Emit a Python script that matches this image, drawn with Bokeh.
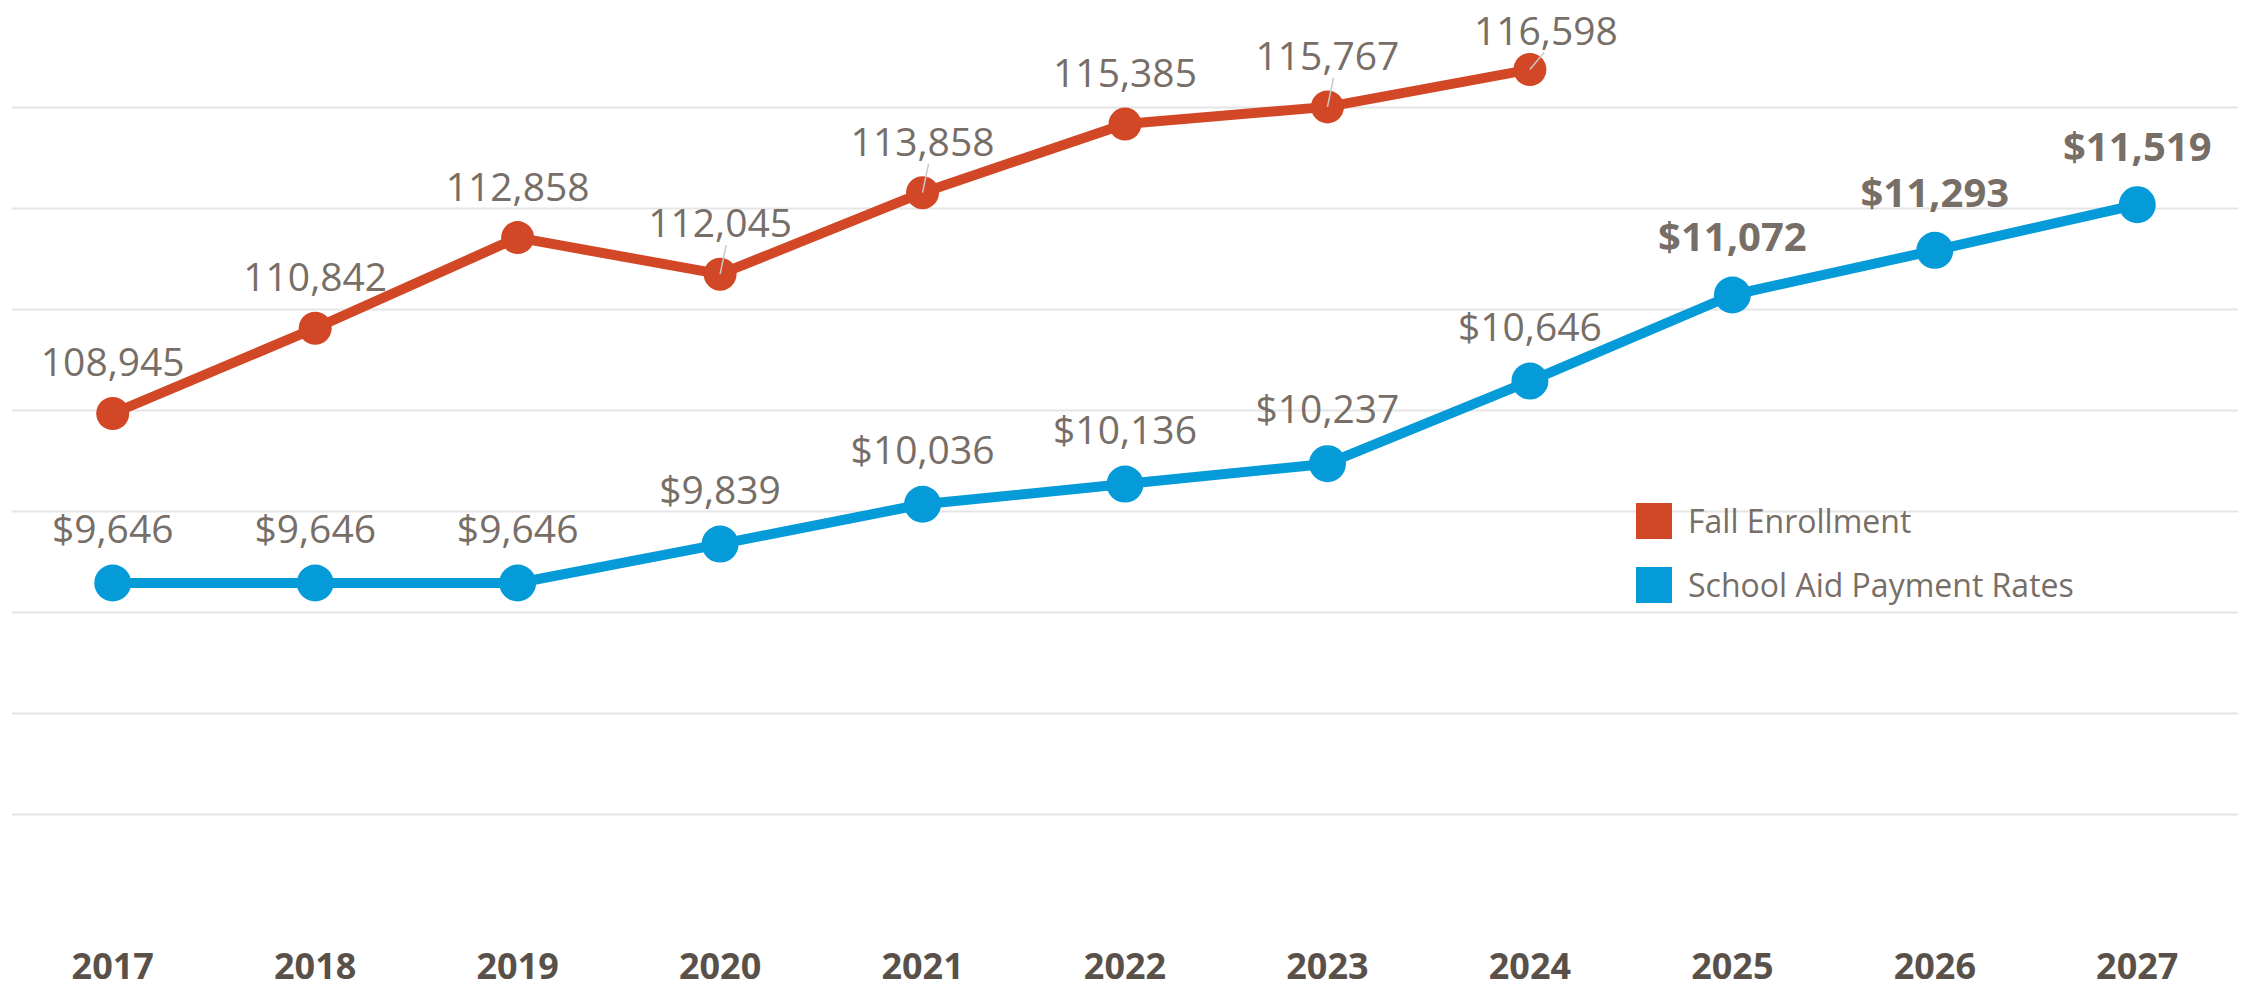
from bokeh.plotting import figure
from bokeh.models import (ColumnDataSource, Range1d, FixedTicker,
                          Legend, LegendItem, FactorRange)
from bokeh.core.properties import value
from bokeh.embed import file_html
from bokeh.resources import INLINE

# ---------------- data ----------------
years = ["2017", "2018", "2019", "2020", "2021", "2022",
         "2023", "2024", "2025", "2026", "2027"]
enroll_years = years[:8]
fall_enrollment = [108945, 110842, 112858, 112045, 113858, 115385, 115767, 116598]
aid_rates = [9646, 9646, 9646, 9839, 10036, 10136, 10237, 10646, 11072, 11293, 11519]
projected_years = ["2025", "2026", "2027"]
leader_years = ["2020", "2021", "2023"]
grid_values = [8000, 8500, 9000, 9500, 10000, 10500, 11000, 11500, 12000]
series_names = ["Fall Enrollment", "School Aid Payment Rates"]

# ---------------- styles ----------------
RED = "#D24726"
BLUE = "#059BD8"
LABEL = "#776E67"
AXIS_LABEL = "#595149"
FONT = "Open Sans"

W, H = 2242, 989
FRAME_H = 915
AID_RANGE = (8000, 12530)
ENR_RANGE = (97775, 118134)
enr_per_px = (ENR_RANGE[1] - ENR_RANGE[0]) / FRAME_H

p = figure(width=W, height=H, output_backend="svg", toolbar_location=None,
           x_range=FactorRange(factors=years),
           y_range=Range1d(*AID_RANGE),
           min_border_left=11, min_border_right=4,
           min_border_top=0, min_border_bottom=H - FRAME_H)
p.extra_y_ranges = {"enr": Range1d(*ENR_RANGE)}

p.outline_line_color = None
p.background_fill_color = "white"
p.border_fill_color = "white"
p.xgrid.grid_line_color = None
p.ygrid.ticker = FixedTicker(ticks=grid_values)
p.ygrid.grid_line_color = "#E5E5E5"
p.ygrid.grid_line_width = 2
p.yaxis.visible = False

xa = p.xaxis[0]
xa.axis_line_color = None
xa.major_tick_line_color = None
xa.minor_tick_line_color = None
xa.major_label_text_font = FONT
xa.major_label_text_font_size = "36px"
xa.major_label_text_font_style = "bold"
xa.major_label_text_color = AXIS_LABEL
xa.major_label_standoff = 31

# ---------------- enrollment (red) ----------------
src_e = ColumnDataSource(dict(x=enroll_years, y=fall_enrollment))
p.line("x", "y", source=src_e, y_range_name="enr", color=RED, line_width=10,
       line_join="round")
p.scatter("x", "y", source=src_e, y_range_name="enr", size=33,
          fill_color=RED, line_color=None)

# leader lines (thin grey) from markers towards displaced labels
lead_x0 = [y for y in enroll_years if y in leader_years] + [enroll_years[-1]]
lead_y0 = [fall_enrollment[enroll_years.index(y)] for y in lead_x0]
lead_x1 = [(y, 0.03) for y in lead_x0[:-1]] + [(enroll_years[-1], 0.07)]
lead_y1 = [v + 29 * enr_per_px for v in lead_y0[:-1]] + [lead_y0[-1] + 17 * enr_per_px]
p.segment(x0=lead_x0, y0=lead_y0, x1=lead_x1, y1=lead_y1, y_range_name="enr",
          line_color="#C8C8C8", line_width=1.5)

main_lab = ColumnDataSource(dict(
    x=enroll_years[:-1], y=fall_enrollment[:-1],
    lab=[f"{v:,}" for v in fall_enrollment[:-1]]))
last_lab = ColumnDataSource(dict(
    x=enroll_years[-1:], y=fall_enrollment[-1:],
    lab=[f"{v:,}" for v in fall_enrollment[-1:]]))
p.text("x", "y", text="lab", source=main_lab, y_range_name="enr",
       text_font=value(FONT), text_font_size="39px", text_color=LABEL,
       text_align="center", text_baseline="middle", y_offset=-51)
p.text("x", "y", text="lab", source=last_lab, y_range_name="enr",
       text_font=value(FONT), text_font_size="39px", text_color=LABEL,
       text_align="center", text_baseline="middle", y_offset=-39, x_offset=16)

# ---------------- aid rates (blue) ----------------
normal_idx = [i for i, y in enumerate(years) if y not in projected_years]
bold_idx = [i for i, y in enumerate(years) if y in projected_years]
src_a = ColumnDataSource(dict(x=years, y=aid_rates))
src_an = ColumnDataSource(dict(
    x=[years[i] for i in normal_idx], y=[aid_rates[i] for i in normal_idx],
    lab=[f"${aid_rates[i]:,}" for i in normal_idx]))
src_ab = ColumnDataSource(dict(
    x=[years[i] for i in bold_idx], y=[aid_rates[i] for i in bold_idx],
    lab=[f"${aid_rates[i]:,}" for i in bold_idx]))
p.line("x", "y", source=src_a, color=BLUE, line_width=10, line_join="round")
p.scatter("x", "y", source=src_a, size=37, fill_color=BLUE, line_color=None)
p.text("x", "y", text="lab", source=src_an,
       text_font=value(FONT), text_font_size="39px", text_color=LABEL,
       text_align="center", text_baseline="middle", y_offset=-56)
p.text("x", "y", text="lab", source=src_ab,
       text_font=value(FONT), text_font_size="40px", text_font_style="bold",
       text_color=LABEL, text_align="center", text_baseline="middle",
       y_offset=-59)

# ---------------- legend ----------------
# legend swatches: zero-size quads placed outside the visible range
swatch = ColumnDataSource(dict(l=[years[0]], r=[years[0]], b=[0], t=[0]))
q_red = p.quad(left="l", right="r", bottom="b", top="t", source=swatch,
               fill_color=RED, line_color=None)
q_blue = p.quad(left="l", right="r", bottom="b", top="t", source=swatch,
                fill_color=BLUE, line_color=None)
legend = Legend(items=[LegendItem(label=series_names[0], renderers=[q_red]),
                       LegendItem(label=series_names[1], renderers=[q_blue])],
                location=(1620, 308), orientation="vertical",
                glyph_width=45, glyph_height=45, spacing=19,
                label_standoff=12, padding=0, margin=0,
                border_line_color=None, background_fill_alpha=0,
                label_text_font=FONT, label_text_font_size="32px",
                label_text_color=LABEL, label_text_baseline="middle")
p.add_layout(legend, "center")

open("out.html", "w").write(file_html(p, INLINE))
